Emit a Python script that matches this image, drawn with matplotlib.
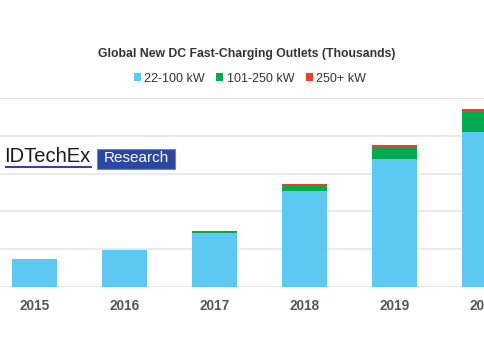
import matplotlib.pyplot as plt
import numpy as np
from matplotlib.patches import Rectangle

plt.rcParams['font.family'] = ['Liberation Sans', 'DejaVu Sans']

# datos (miles de puntos de carga)
years = ['2015', '2016', '2017', '2018', '2019', '2020']
low_kw = [36.7, 49.6, 71.6, 127.5, 169.5, 205.0]
mid_kw = [0.0, 0.0, 2.5, 8.0, 16.0, 28.0]
high_kw = [0.0, 0.0, 0.0, 1.0, 2.7, 2.3]
series_names = ['22-100 kW', '101-250 kW', '250+ kW']
colors = ['#5bc9f2', '#00aa4f', '#f03c28']

fig = plt.figure(figsize=(4.85, 3.6), dpi=100)
ax = fig.add_axes([0, 73/360, 1, 189/360])

x = np.arange(len(years))
low = np.array(low_kw)
mid = np.array(mid_kw)
high = np.array(high_kw)
ax.bar(x, low, 0.5, color=colors[0], label=series_names[0], zorder=3)
ax.bar(x, mid, 0.5, bottom=low, color=colors[1], label=series_names[1], zorder=3)
ax.bar(x, high, 0.5, bottom=low + mid, color=colors[2], label=series_names[2], zorder=3)

ax.set_xlim(-0.383, 4.958)
ax.set_ylim(0, 250)
ax.set_yticks(np.arange(0, 251, 50))
ax.yaxis.grid(True, color='#e6e6e6', lw=1.2, zorder=0)
ax.tick_params(axis='y', left=False, labelleft=False)
ax.set_xticks(x)
ax.set_xticklabels(years, color='#555555', fontsize=9.8, fontweight='bold')
ax.tick_params(axis='x', length=0, pad=9)
for s in ax.spines.values():
    s.set_visible(False)

fig.text(247/485, 1 - 54/360, 'Global New DC Fast-Charging Outlets (Thousands)',
         ha='center', va='center', fontsize=8.8, fontweight='bold', color='#333333')

leg = fig.legend(loc='center', bbox_to_anchor=(250/485, 1 - 78.5/360), ncol=3, frameon=False,
                 fontsize=9, handlelength=0.55, handleheight=0.55, handletextpad=0.3,
                 columnspacing=0.9, labelcolor='#333333')

# logo
fig.text(4/485, 1 - 157/360, 'IDTechEx', ha='left', va='center', fontsize=14.5, color='#1a1a1a')
fig.add_artist(plt.Line2D([6/485, 91/485], [1 - 167/360, 1 - 167/360], color='#2c47a0', lw=1.5))
fig.add_artist(Rectangle((97.5/485, 1 - 168.5/360), 77.5/485, 20/360, transform=fig.transFigure,
                         facecolor='#2c47a0', edgecolor='#6f82c4', lw=0.8))
fig.text(136/485, 1 - 158.5/360, 'Research', ha='center', va='center', fontsize=11, color='white')

fig.savefig('out.png', dpi=100)
